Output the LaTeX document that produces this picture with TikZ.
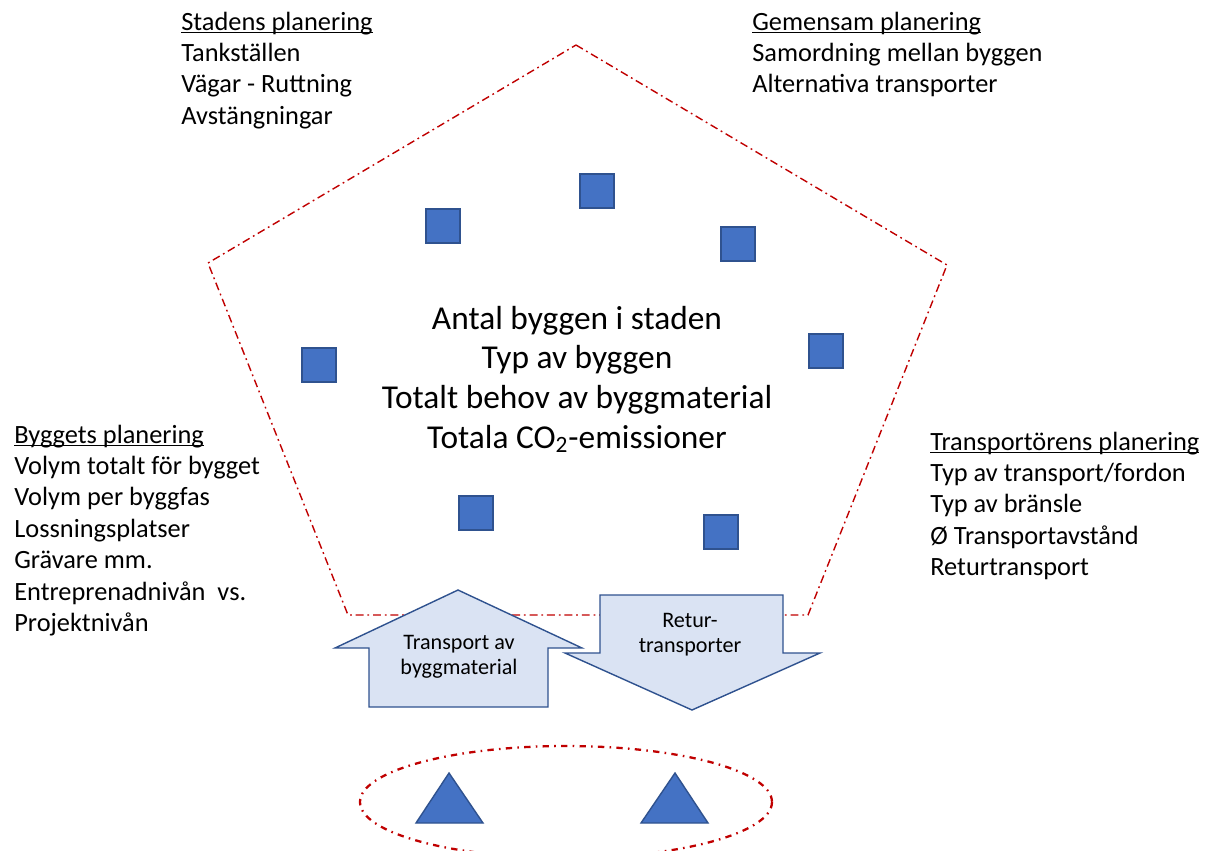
\documentclass[tikz,border=0pt]{standalone}
\usepackage{fontspec}
\setmainfont{Carlito}
\usepackage{tikz}

\definecolor{shapeblue}{HTML}{4472C4}
\definecolor{edgeblue}{HTML}{2F528F}
\definecolor{arrowfill}{HTML}{DAE3F3}
\definecolor{planred}{HTML}{C00000}

% underline through the descenders, as in the original
\newcommand{\planhead}[1]{\setbox0\hbox{#1}\rlap{\rule[-1.8pt]{\wd0}{0.9pt}}#1}

\begin{document}
\begin{tikzpicture}[
    x=0.02cm, y=-0.02cm,
    building/.style={draw=edgeblue, fill=shapeblue, line width=0.8pt, minimum size=0.68cm, inner sep=0pt},
    depot/.style={draw=edgeblue, fill=shapeblue, line width=0.8pt, line join=miter},
    plan/.style={font=\fontsize{15}{17.9}\selectfont, anchor=base west, inner sep=0pt},
    bigtext/.style={font=\fontsize{19}{22.6}\selectfont, anchor=base, inner sep=0pt},
    flowtext/.style={font=\fontsize{12.6}{14.4}\selectfont, anchor=base, inner sep=0pt},
    flowarrow/.style={draw=edgeblue, fill=arrowfill, line width=0.8pt, line join=miter},
    zone/.style={draw=planred, line width=0.8pt, dash pattern=on 4.5pt off 2.2pt on 1pt off 2.2pt}
]
\useasboundingbox (0,0) rectangle (1210,850);

% 1. City zone (pentagon)
\draw[zone] (576,45) -- (947,265) -- (808,615) -- (348,615) -- (208,263) -- cycle;

% Buildings
\node[building] (b1) at (443,226) {};
\node[building] (b2) at (597,191) {};
\node[building] (b3) at (738,244) {};
\node[building] (b4) at (319,365) {};
\node[building] (b5) at (826,351) {};
\node[building] (b6) at (476,513) {};
\node[building] (b7) at (721,532) {};

\node[bigtext] (totals) at (577,329) {
    \begin{tabular}[t]{@{}c@{}}
        Antal byggen i staden \\
        Typ av byggen \\
        Totalt behov av byggmaterial \\
        Totala CO\textsubscript{2}-emissioner
    \end{tabular}
};

% 2. Transport arrows
\draw[flowarrow] (369,707) -- (369,648) -- (335,648) -- (458,590) -- (582,648) -- (548,648) -- (548,707) -- cycle;
\draw[flowarrow] (600,595) -- (783,595) -- (783,653) -- (820,653) -- (692,710) -- (565,653) -- (600,653) -- cycle;
\node[flowtext] (inbound) at (459,649) {
    \begin{tabular}[t]{@{}c@{}}
        Transport av \\
        byggmaterial
    \end{tabular}
};
\node[flowtext] (outbound) at (690,627) {
    \begin{tabular}[t]{@{}c@{}}
        Retur- \\
        transporter
    \end{tabular}
};

% 3. Supplier zone (ellipse)
\draw[zone, line width=1.3pt, dash pattern=on 3.6pt off 3pt on 0.9pt off 3pt] (566,802) ellipse [x radius=206, y radius=56];
\draw[depot] (416,823) -- (449,773) -- (483,823) -- cycle;
\draw[depot] (641,823) -- (675,773) -- (708,823) -- cycle;

% 4. Planning lists
\node[plan] (city) at (181,30) {
    \begin{tabular}[t]{@{}l@{}}
        \planhead{Stadens planering} \\
        Tankställen \\
        Vägar - Ruttning \\
        Avstängningar
    \end{tabular}
};
\node[plan] (joint) at (752,30) {
    \begin{tabular}[t]{@{}l@{}}
        \planhead{Gemensam planering} \\
        Samordning mellan byggen \\
        Alternativa transporter
    \end{tabular}
};
\node[plan] (project) at (14,443) {
    \begin{tabular}[t]{@{}l@{}}
        \planhead{Byggets planering} \\
        Volym totalt för bygget \\
        Volym per byggfas \\
        Lossningsplatser \\
        Grävare mm. \\
        Entreprenadnivån~ vs. \\
        Projektnivån
    \end{tabular}
};
\node[plan] (haulier) at (930,450) {
    \begin{tabular}[t]{@{}l@{}}
        \planhead{Transportörens planering} \\
        Typ av transport/fordon \\
        Typ av bränsle \\
        Ø Transportavstånd \\
        Returtransport
    \end{tabular}
};

\end{tikzpicture}
\end{document}
